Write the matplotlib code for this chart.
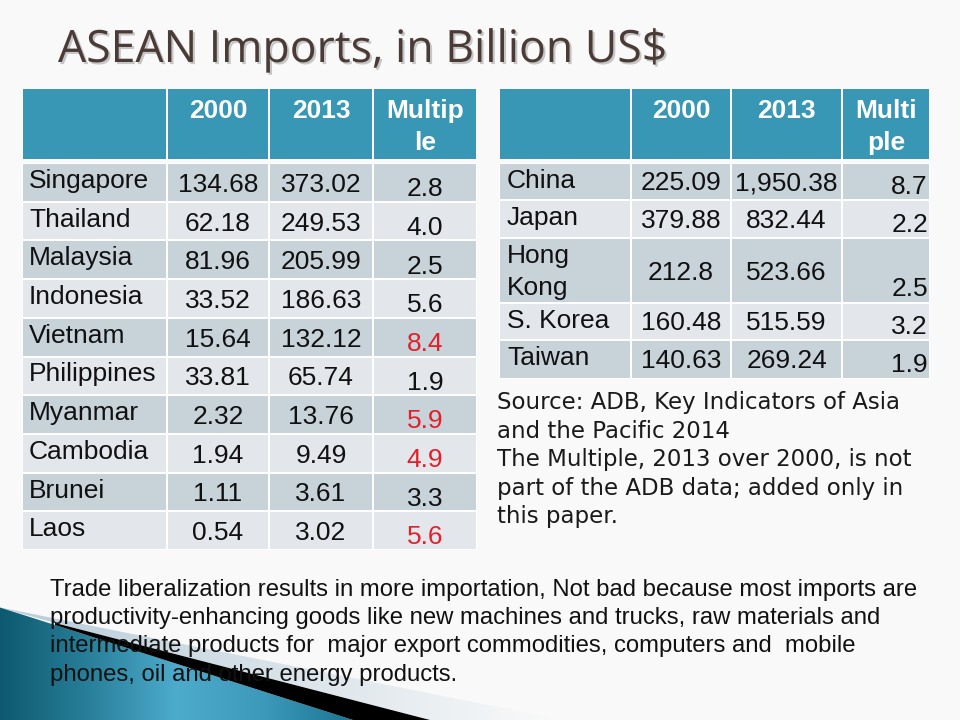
import matplotlib
matplotlib.use('Agg')
import matplotlib.pyplot as plt
import matplotlib.patheffects as pe
import numpy as np
from matplotlib.patches import Rectangle, Polygon

# ---- data ----
title = 'ASEAN Imports, in Billion US$'

header_left = ['', '2000', '2013', 'Multip\nle']
asean_countries = ['Singapore', 'Thailand', 'Malaysia', 'Indonesia', 'Vietnam',
                   'Philippines', 'Myanmar', 'Cambodia', 'Brunei', 'Laos']
asean_2000 = [134.68, 62.18, 81.96, 33.52, 15.64, 33.81, 2.32, 1.94, 1.11, 0.54]
asean_2013 = [373.02, 249.53, 205.99, 186.63, 132.12, 65.74, 13.76, 9.49, 3.61, 3.02]
asean_multiple = [2.8, 4.0, 2.5, 5.6, 8.4, 1.9, 5.9, 4.9, 3.3, 5.6]
highlight = ['Vietnam', 'Myanmar', 'Cambodia', 'Laos']

header_right = ['', '2000', '2013', 'Multi\nple']
partners = ['China', 'Japan', 'Hong\nKong', 'S. Korea', 'Taiwan']
partners_2000 = [225.09, 379.88, 212.8, 160.48, 140.63]
partners_2013 = [1950.38, 832.44, 523.66, 515.59, 269.24]
partners_multiple = [8.7, 2.2, 2.5, 3.2, 1.9]

source_lines = ['Source: ADB, Key Indicators of Asia',
                'and the Pacific 2014',
                'The Multiple, 2013 over 2000, is not',
                'part of the ADB data; added only in',
                'this paper.']
note_lines = ['Trade liberalization results in more importation, Not bad because most imports are',
              'productivity-enhancing goods like new machines and trucks, raw materials and',
              'intermediate products for  major export commodities, computers and  mobile',
              'phones, oil and other energy products.']

# ---- style ----
HEAD = '#3797b5'
DARK_ROW = '#c7d2d9'
LIGHT_ROW = '#e3e7eb'
RED = '#e3202a'
TXT = '#111111'
FS = 19


def fmt(v):
    return f'{v:,}'


fig = plt.figure(figsize=(9.6, 7.2), dpi=100)
ax = fig.add_axes([0, 0, 1, 1])
ax.set_xlim(0, 960)
ax.set_ylim(720, 0)
ax.axis('off')
fig.patch.set_facecolor('#f9f9f9')

# title
ax.text(58, 62, title, fontsize=32.1, family='Open Sans', color='#4a3b36', va='baseline',
        path_effects=[pe.SimplePatchShadow(offset=(1.5, -1.5), shadow_rgbFace='#888888', alpha=0.45),
                      pe.Normal()])


def cell(x0, x1, y0, y1, color):
    ax.add_patch(Rectangle((x0 + 1, y0 + 1), x1 - x0 - 2, y1 - y0 - 2, facecolor=color,
                           edgecolor='none', zorder=1))


def draw_header(cols, labels, top=88, bottom=160):
    ax.add_patch(Rectangle((cols[0], top), cols[-1] - cols[0], bottom - top, facecolor='white',
                           edgecolor='none', zorder=0.5))
    for j, lab in enumerate(labels):
        cell(cols[j], cols[j + 1], top, bottom, HEAD)
        for k, line in enumerate(lab.split('\n')):
            ax.text((cols[j] + cols[j + 1]) / 2, 118 + 32 * k, line, fontsize=FS, weight='bold',
                    family='Liberation Sans', color='white', ha='center', va='baseline', zorder=3)


# left table
cols_l = [22, 167, 269, 373, 477]
rows_l = list(np.linspace(163, 550, len(asean_countries) + 1))
draw_header(cols_l, header_left)
ax.add_patch(Rectangle((cols_l[0], rows_l[0]), cols_l[-1] - cols_l[0], rows_l[-1] - rows_l[0],
                       facecolor='white', edgecolor='none', zorder=0.5))
for i, name in enumerate(asean_countries):
    y0, y1 = rows_l[i], rows_l[i + 1]
    bg = DARK_ROW if i % 2 == 0 else LIGHT_ROW
    for j in range(4):
        cell(cols_l[j], cols_l[j + 1], y0, y1, bg)
    mid = (y0 + y1) / 2
    ax.text(cols_l[0] + 7, y0 + 25, name, fontsize=FS, family='Liberation Sans', color=TXT,
            va='baseline', zorder=3)
    ax.text((cols_l[1] + cols_l[2]) / 2, mid + 9.5, fmt(asean_2000[i]), fontsize=FS,
            family='Liberation Sans', color=TXT, ha='center', va='baseline', zorder=3)
    ax.text((cols_l[2] + cols_l[3]) / 2, mid + 9.5, fmt(asean_2013[i]), fontsize=FS,
            family='Liberation Sans', color=TXT, ha='center', va='baseline', zorder=3)
    ax.text((cols_l[3] + cols_l[4]) / 2, y1 - 5.5, fmt(asean_multiple[i]), fontsize=FS,
            family='Liberation Sans', color=RED if name in highlight else TXT,
            ha='center', va='baseline', zorder=3)

# right table
cols_r = [499, 631, 731, 842, 930]
rows_r = [163, 200, 238, 303, 340, 379]
draw_header(cols_r, header_right)
ax.add_patch(Rectangle((cols_r[0], rows_r[0]), cols_r[-1] - cols_r[0], rows_r[-1] - rows_r[0],
                       facecolor='white', edgecolor='none', zorder=0.5))
for i, name in enumerate(partners):
    y0, y1 = rows_r[i], rows_r[i + 1]
    bg = DARK_ROW if i % 2 == 0 else LIGHT_ROW
    for j in range(4):
        cell(cols_r[j], cols_r[j + 1], y0, y1, bg)
    mid = (y0 + y1) / 2
    for k, line in enumerate(name.split('\n')):
        ax.text(cols_r[0] + 8, y0 + 25 + 32 * k, line, fontsize=FS, family='Liberation Sans',
                color=TXT, va='baseline', zorder=3)
    ax.text((cols_r[1] + cols_r[2]) / 2, mid + 9, fmt(partners_2000[i]), fontsize=FS,
            family='Liberation Sans', color=TXT, ha='center', va='baseline', zorder=3)
    ax.text((cols_r[2] + cols_r[3]) / 2, mid + 9, fmt(partners_2013[i]), fontsize=FS,
            family='Liberation Sans', color=TXT, ha='center', va='baseline', zorder=3)
    ax.text(cols_r[4] - 2, y1 - 6.5, fmt(partners_multiple[i]), fontsize=FS,
            family='Liberation Sans', color=TXT, ha='right', va='baseline', zorder=3)

# source note
for k, line in enumerate(source_lines):
    ax.text(497, 409 + 28.5 * k, line, fontsize=16.5, family='DejaVu Sans', color='#1a1a1a',
            va='baseline', zorder=3)

# bottom paragraph (on top of the corner decoration)
for k, line in enumerate(note_lines):
    ax.text(50, 596 + 28.2 * k, line, fontsize=17.2, family='Liberation Sans', color=TXT,
            va='baseline', zorder=8)

# decoration in the bottom-left corner
light = Polygon([(0, 607.5), (563, 720), (430, 720), (55, 623)], closed=True,
                facecolor='none', edgecolor='none', zorder=4)
ax.add_patch(light)
gx = np.linspace(0, 1, 200)
grad_light = np.ones((2, 200, 4))
grad_light[..., 0] = 0.72 + 0.26 * gx
grad_light[..., 1] = 0.80 + 0.18 * gx
grad_light[..., 2] = 0.85 + 0.13 * gx
im = ax.imshow(grad_light, extent=(0, 563, 720, 600), aspect='auto', zorder=4)
im.set_clip_path(light)

teal = Polygon([(0, 607.5), (353, 720), (0, 720)], closed=True, facecolor='none',
               edgecolor='none', zorder=5)
ax.add_patch(teal)
stops = np.array([[0.05, 0.35, 0.44], [0.16, 0.50, 0.60], [0.30, 0.67, 0.80],
                  [0.24, 0.60, 0.73], [0.10, 0.46, 0.57]])
pos = np.linspace(0, 1, len(stops))
grad_teal = np.ones((2, 300, 4))
for c in range(3):
    grad_teal[..., c] = np.interp(np.linspace(0, 1, 300), pos, stops[:, c])
im2 = ax.imshow(grad_teal, extent=(0, 353, 720, 600), aspect='auto', zorder=5)
im2.set_clip_path(teal)

ax.add_patch(Polygon([(55, 623), (430, 720), (353, 720), (55, 625)], closed=True,
                     facecolor='black', edgecolor='none', zorder=6))

ax.set_xlim(0, 960)
ax.set_ylim(720, 0)
fig.savefig('out.png', dpi=100, facecolor=fig.get_facecolor())
